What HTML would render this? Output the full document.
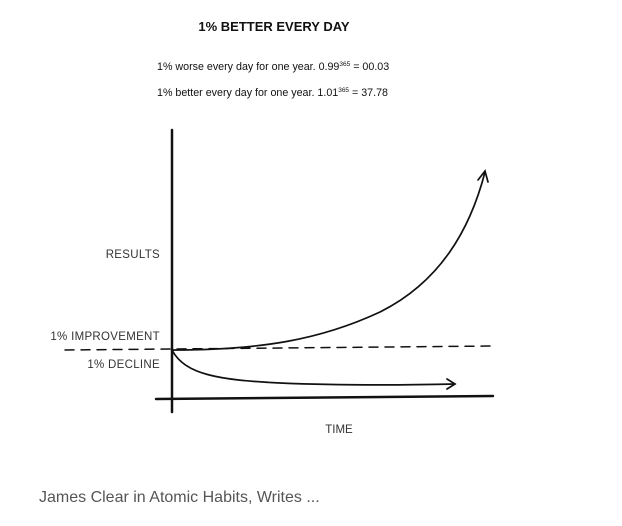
<!DOCTYPE html>
<html><head><style>
body{margin:0;background:#fff;width:622px;height:526px;overflow:hidden;font-family:"Liberation Sans",sans-serif}
</style></head><body>
<svg width="622" height="526" xmlns="http://www.w3.org/2000/svg" style="position:absolute;left:0;top:0">
<text x="274" y="31" text-anchor="middle" font-size="13" font-weight="bold" fill="#111">1% BETTER EVERY DAY</text>
<text x="157" y="70" font-size="10.7" fill="#111">1% worse every day for one year. 0.99<tspan dy="-4" font-size="6.5">365</tspan><tspan dy="4"> = 00.03</tspan></text>
<text x="157" y="96" font-size="10.7" fill="#111">1% better every day for one year. 1.01<tspan dy="-4" font-size="6.5">365</tspan><tspan dy="4"> = 37.78</tspan></text>
<g font-size="11.5" fill="#333" letter-spacing="0.3" text-anchor="end">
<text x="160" y="258">RESULTS</text>
<text x="160" y="340">1% IMPROVEMENT</text>
<text x="160" y="368">1% DECLINE</text>
</g>
<text x="339" y="433" text-anchor="middle" font-size="11.5" fill="#333">TIME</text>
<g stroke="#111" fill="none" stroke-linecap="round">
<line x1="172" y1="130" x2="172" y2="412" stroke-width="2.5"/>
<line x1="156" y1="399" x2="493" y2="396" stroke-width="2.5"/>
<line x1="65" y1="350" x2="495" y2="346" stroke-width="1.5" stroke-dasharray="9,7"/>
<path d="M172 350 C260 350 320 340 380 312 C440 282 470 230 485 172" stroke-width="1.7"/>
<path d="M478 180 L485 171 L488 182" stroke-width="1.7"/>
<path d="M172 350 C185 375 220 380 280 383 C350 386 410 385 455 384" stroke-width="1.7"/>
<path d="M447 379 L455 384 L447 389" stroke-width="1.7"/>
</g>
<text x="39" y="502" font-size="16" fill="#555">James Clear in Atomic Habits,  Writes ...</text>
</svg>
</body></html>
